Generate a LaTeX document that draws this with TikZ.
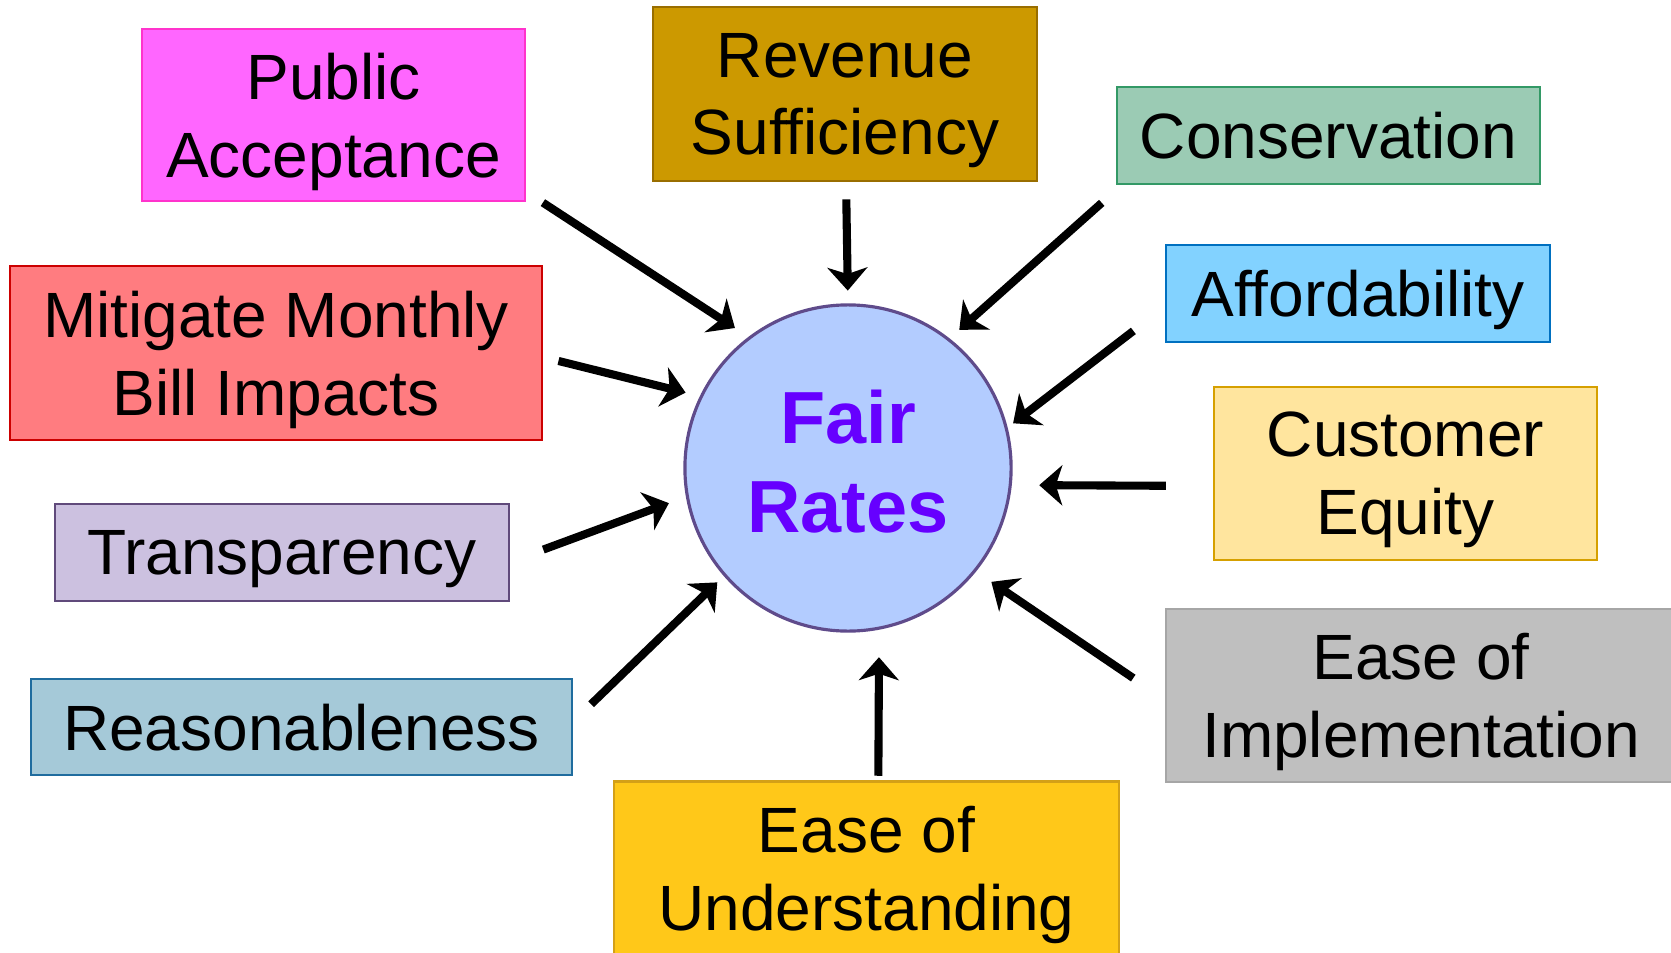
\documentclass[tikz,border=0pt]{standalone}
\usepackage{fontspec}
\setmainfont{Liberation Sans}
\definecolor{pafill}{RGB}{255,102,255}
\definecolor{padraw}{RGB}{255,51,204}
\definecolor{rsfill}{RGB}{204,153,0}
\definecolor{rsdraw}{RGB}{153,110,0}
\definecolor{cofill}{RGB}{155,203,180}
\definecolor{codraw}{RGB}{51,153,102}
\definecolor{mmfill}{RGB}{255,124,128}
\definecolor{mmdraw}{RGB}{204,0,0}
\definecolor{affill}{RGB}{130,210,255}
\definecolor{afdraw}{RGB}{0,112,192}
\definecolor{cefill}{RGB}{255,229,158}
\definecolor{cedraw}{RGB}{214,160,0}
\definecolor{trfill}{RGB}{204,193,224}
\definecolor{trdraw}{RGB}{96,74,123}
\definecolor{eifill}{RGB}{191,191,191}
\definecolor{eidraw}{RGB}{166,166,166}
\definecolor{refill}{RGB}{165,201,216}
\definecolor{redraw}{RGB}{31,108,158}
\definecolor{eufill}{RGB}{255,200,25}
\definecolor{eudraw}{RGB}{212,160,23}
\definecolor{hubfill}{RGB}{179,204,255}
\definecolor{hubdraw}{RGB}{95,75,139}
\definecolor{hubtext}{RGB}{102,0,255}
\usetikzlibrary{arrows.meta,shapes}

\begin{document}
\begin{tikzpicture}[x=0.01cm,y=-0.01cm,
        every node/.style={inner sep=0pt,outer sep=0pt},
        crit/.style={draw,line width=0.6pt,align=center,text depth=0pt,
                     font=\fontsize{18.2}{22.1}\selectfont},
        hub/.style={circle,draw=hubdraw,fill=hubfill,line width=0.9pt,minimum size=3.26cm},
        hubtxt/.style={align=center,text depth=0pt,text=hubtext,
                       font=\bfseries\fontsize{21}{25.4}\selectfont},
        arr/.style={-{Stealth[length=0.23cm,width=0.40cm,inset=0.065cm]},line width=2.3pt}
        ]
        \useasboundingbox (0,0) rectangle (1671,952);

        % the criteria on the left
        \node[crit,fill=pafill,draw=padraw,minimum width=3.83cm,minimum height=1.72cm] (pa) at (333.5,115) {Public\\Acceptance};
        \node[crit,fill=mmfill,draw=mmdraw,minimum width=5.32cm,minimum height=1.74cm] (mm) at (276,353) {Mitigate Monthly\\Bill Impacts};
        \node[crit,fill=trfill,draw=trdraw,minimum width=4.54cm,minimum height=0.97cm] (tr) at (282,552.5) {Transparency};
        \node[crit,fill=refill,draw=redraw,minimum width=5.41cm,minimum height=0.96cm] (re) at (301.5,727) {Reasonableness};

        % the criteria on top and bottom
        \node[crit,fill=rsfill,draw=rsdraw,minimum width=3.84cm,minimum height=1.74cm] (rs) at (845,94) {Revenue\\Sufficiency};
        \node[crit,fill=eufill,draw=eudraw,minimum width=5.05cm,minimum height=1.74cm] (eu) at (866.5,868.5) {Ease of\\Understanding};

        % the criteria on the right
        \node[crit,fill=cofill,draw=codraw,minimum width=4.23cm,minimum height=0.97cm] (co) at (1328.5,135.5) {Conservation};
        \node[crit,fill=affill,draw=afdraw,minimum width=3.84cm,minimum height=0.97cm] (af) at (1358,293.5) {Affordability};
        \node[crit,fill=cefill,draw=cedraw,minimum width=3.83cm,minimum height=1.73cm] (ce) at (1405.5,473.5) {Customer\\Equity};
        \node[crit,fill=eifill,draw=eidraw,minimum width=5.10cm,minimum height=1.73cm] (ei) at (1421,695.5) {Ease of\\Implementation};

        % the hub
        \node[hub] (fr) at (848,468) {};
        \node[hubtxt] (frtxt) at ([yshift=0.07cm]fr.center) {Fair\\Rates};

        % the arrows
        \draw[arr,shorten <=0.212cm,shorten >=0.178cm] ([yshift=0.10cm]pa.south east) -- (fr.127.8);
        \draw[arr,shorten <=0.183cm,shorten >=0.143cm] ([xshift=0.01cm]rs.south) -- (fr.90.7);
        \draw[arr,shorten <=0.283cm,shorten >=0.145cm] ([xshift=0.06cm]co.south west) -- (fr.52.4);
        \draw[arr,shorten <=0.41cm,shorten >=0.086cm] ([yshift=-0.124cm]af.west) -- (fr.14.4);
        \draw[arr,shorten <=0.48cm,shorten >=0.29cm] ([yshift=-0.125cm]ce.west) -- (fr.-6.3);
        \draw[arr,shorten <=0.394cm,shorten >=0.20cm] ([yshift=-0.047cm]ei.west) -- (fr.-39.4);
        \draw[arr,shorten <=0.057cm,shorten >=0.291cm] ([xshift=0.118cm]eu.north) -- (fr.-79.3);
        \draw[arr,shorten <=0.263cm,shorten >=0.106cm] ([yshift=0.045cm]re.east) -- (fr.221.2);
        \draw[arr,shorten <=0.364cm,shorten >=0.197cm] ([yshift=-0.097cm]tr.east) -- (fr.190.75);
        \draw[arr,shorten <=0.168cm,shorten >=0.163cm] ([yshift=-0.039cm]mm.east) -- (fr.154);
\end{tikzpicture}
\end{document}
